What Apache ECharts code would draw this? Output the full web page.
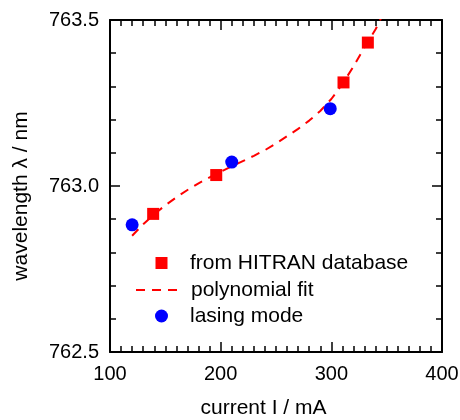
<!DOCTYPE html>
<html>
<head>
<meta charset="utf-8">
<script src="https://cdn.jsdelivr.net/npm/echarts@6/dist/echarts.min.js"></script>
<style>html,body{margin:0;padding:0;background:#fff;}#c{width:460px;height:420px;}</style>
</head>
<body>
<div id="c"></div>
<script>
// Data
var hitranX = [139, 196, 311, 333];
var hitranY = [762.916, 763.033, 763.312, 763.432];
var lasingX = [120, 210, 299];
var lasingY = [762.883, 763.072, 763.233];
var fitX = [120, 130, 140, 150, 160, 170, 180, 190, 200, 210, 220, 230, 240, 250, 260, 270, 280, 290, 300, 310, 320, 330, 340, 350];
var fitY = [762.850, 762.885, 762.915, 762.942, 762.966, 762.988, 763.008, 763.026, 763.043, 763.059, 763.075, 763.091, 763.108, 763.128, 763.150, 763.172, 763.197, 763.226, 763.262, 763.307, 763.360, 763.418, 763.472, 763.540];
var xTicks = [100, 200, 300, 400];
var yTicks = [762.5, 763.0, 763.5];
var seriesNames = ['from HITRAN database', 'polynomial fit', 'lasing mode'];

function pairs(xs, ys) { return xs.map(function (x, i) { return [x, ys[i]]; }); }

var FONT = 'Liberation Sans, Arial, Helvetica, sans-serif';
var axisCommonX = {
  type: 'value', min: xTicks[0], max: xTicks[xTicks.length - 1], interval: 100,
  axisLine: { show: true, onZero: false, lineStyle: { color: '#000', width: 2 } },
  axisTick: { show: true, inside: true, length: 10, lineStyle: { color: '#000', width: 1.5 } },
  minorTick: { show: true, splitNumber: 10, length: 6, lineStyle: { color: '#000', width: 1.5 } },
  splitLine: { show: false }
};
var axisCommonY = {
  type: 'value', min: yTicks[0], max: yTicks[yTicks.length - 1], interval: 0.5,
  axisLine: { show: true, onZero: false, lineStyle: { color: '#000', width: 2 } },
  axisTick: { show: true, inside: true, length: 10, lineStyle: { color: '#000', width: 1.5 } },
  minorTick: { show: true, splitNumber: 5, length: 6, lineStyle: { color: '#000', width: 1.5 } },
  splitLine: { show: false }
};

function legendOf(name, left, top, w, h, textPad, extra) {
  return {
    orient: 'vertical', left: left, top: top, padding: 0,
    itemWidth: w, itemHeight: h, selectedMode: false,
    textStyle: { color: '#000', fontSize: 21, fontFamily: FONT, padding: [0, 0, 0, textPad] },
    data: [Object.assign({ name: name }, extra || {})]
  };
}

var chart = echarts.init(document.getElementById('c'), null, { renderer: 'canvas' });
chart.setOption({
  animation: false,
  backgroundColor: '#fff',
  textStyle: { fontFamily: FONT },
  grid: { left: 110, right: 18, top: 20, bottom: 68, containLabel: false, outerBoundsMode: 'none' },
  xAxis: [
    Object.assign({}, axisCommonX, {
      position: 'bottom',
      name: 'current I / mA', nameLocation: 'middle', nameGap: 46,
      nameTextStyle: { color: '#000', fontSize: 21, fontFamily: FONT, padding: [0, 25, 0, 0] },
      axisLabel: { show: true, color: '#000', fontSize: 20, fontFamily: FONT, margin: 12 }
    }),
    Object.assign({}, axisCommonX, { position: 'top', axisLabel: { show: false } })
  ],
  yAxis: [
    Object.assign({}, axisCommonY, {
      position: 'left',
      name: 'wavelength \u03bb / nm', nameLocation: 'middle', nameGap: 78, nameRotate: 90,
      nameTextStyle: { color: '#000', fontSize: 21, fontFamily: FONT, padding: [0, 20, 0, 0] },
      axisLabel: { show: true, color: '#000', fontSize: 20, fontFamily: FONT, margin: 11,
        formatter: function (v) { return v.toFixed(1); } }
    }),
    Object.assign({}, axisCommonY, { position: 'right', axisLabel: { show: false } })
  ],
  legend: [
    legendOf(seriesNames[0], 155.5, 252.5, 12, 12, 17.5, { icon: 'rect' }),
    legendOf(seriesNames[1], 135, 279.5, 48, 13, 2, { itemStyle: { opacity: 0 } }),
    legendOf(seriesNames[2], 155, 305.5, 13, 13, 17, { icon: 'circle' })
  ],
  series: [
    {
      name: seriesNames[1], type: 'line', data: pairs(fitX, fitY),
      symbol: 'none', showSymbol: false, smooth: false, clip: true,
      lineStyle: { color: '#ff0000', width: 2, type: [9, 7] },
      itemStyle: { color: '#ff0000' }, z: 2
    },
    {
      name: seriesNames[0], type: 'scatter', data: pairs(hitranX, hitranY),
      symbol: 'rect', symbolSize: 12, itemStyle: { color: '#ff0000', opacity: 1 }, z: 3
    },
    {
      name: seriesNames[2], type: 'scatter', data: pairs(lasingX, lasingY),
      symbol: 'circle', symbolSize: 13, itemStyle: { color: '#0000ff', opacity: 1 }, z: 3
    }
  ]
});
</script>
</body>
</html>
